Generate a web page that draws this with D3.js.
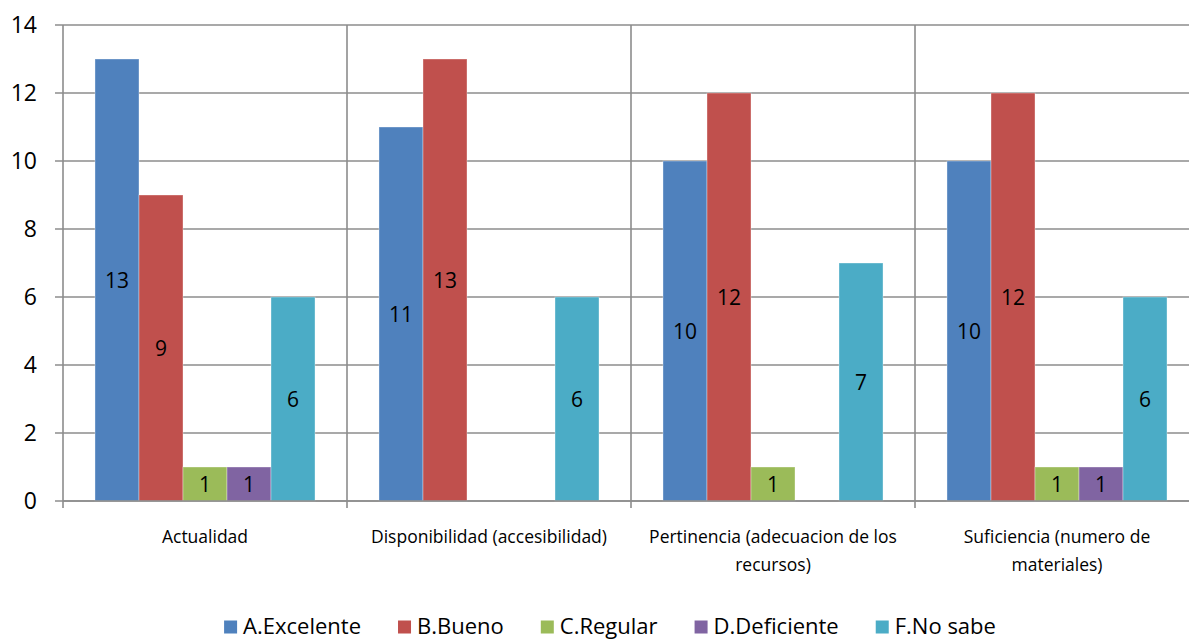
<!DOCTYPE html>
<html><head><meta charset="utf-8">
<script src="https://cdn.jsdelivr.net/npm/d3@7"></script>
<style>body{margin:0;background:#fff}svg{display:block}text{font-family:"Open Sans","Liberation Sans",sans-serif;fill:#000}</style>
</head><body><svg id="c" width="1189" height="642"></svg>
<script>
const categories = ["Actualidad","Disponibilidad (accesibilidad)","Pertinencia (adecuacion de los recursos)","Suficiencia (numero de materiales)"];
const seriesNames = ["A.Excelente","B.Bueno","C.Regular","D.Deficiente","F.No sabe"];
const seriesColors = ["#4F81BD","#C0504D","#9BBB59","#8064A2","#4BACC6"];
const excelente = [13,11,10,10];
const bueno = [9,13,12,12];
const regular = [1,0,1,1];
const deficiente = [1,0,0,1];
const noSabe = [6,6,7,6];
const yTicks = [0,2,4,6,8,10,12,14];
const seriesValues = [excelente,bueno,regular,deficiente,noSabe];

(function(){
const svg = d3.select("#c");
const pLeft = 63, pRight = 1199, pTop = 25, pBottom = 501;
const x0 = d3.scaleBand().domain(categories).range([pLeft,pRight]).paddingInner(0).paddingOuter(0);
const x1 = d3.scaleBand().domain(seriesNames).range([0,x0.bandwidth()]).paddingInner(0).paddingOuter(0.727);
const y = d3.scaleLinear().domain([0,14]).range([pBottom,pTop]);
const grid = "#8c8c8c";

svg.append("g").selectAll("line").data(yTicks).join("line")
  .attr("x1",55).attr("x2",pRight).attr("y1",d=>y(d)).attr("y2",d=>y(d))
  .attr("stroke",grid).attr("stroke-width",1.6);
const bounds = categories.map(c=>x0(c));
svg.append("g").selectAll("line").data(bounds).join("line")
  .attr("x1",d=>d).attr("x2",d=>d).attr("y1",pTop).attr("y2",pBottom+7)
  .attr("stroke",grid).attr("stroke-width",1.6);

svg.append("g").selectAll("text").data(yTicks).join("text")
  .attr("x",37).attr("y",d=>y(d)).attr("dy","0.36em").attr("text-anchor","end")
  .attr("font-size",23).text(d=>d);

const data = [];
categories.forEach((c,i)=>seriesNames.forEach((s,j)=>data.push({c,s,v:seriesValues[j][i],col:seriesColors[j]})));
svg.append("g").selectAll("rect").data(data.filter(d=>d.v>0)).join("rect")
  .attr("x",d=>x0(d.c)+x1(d.s)).attr("width",x1.bandwidth())
  .attr("y",d=>y(d.v)).attr("height",d=>y(0)-y(d.v))
  .attr("fill",d=>d.col).attr("stroke","rgba(255,255,255,0.35)").attr("stroke-width",1);
svg.append("g").selectAll("text").data(data.filter(d=>d.v>0)).join("text")
  .attr("x",d=>x0(d.c)+x1(d.s)+x1.bandwidth()/2).attr("y",d=>y(d.v/2)).attr("dy","0.36em")
  .attr("text-anchor","middle").attr("font-size",21).text(d=>d.v);

svg.append("line").attr("x1",pLeft).attr("x2",pRight).attr("y1",pBottom).attr("y2",pBottom).attr("stroke",grid).attr("stroke-width",1.6);

const catG = svg.append("g");
categories.forEach(c=>{
  const cx = x0(c)+x0.bandwidth()/2;
  const t = catG.append("text").attr("y",537).attr("text-anchor","middle").attr("font-size",17.5);
  const words = c.split(" ");
  let line = [];
  let ts = t.append("tspan").attr("x",cx).attr("dy","0.35em");
  words.forEach(w=>{
    line.push(w); ts.text(line.join(" "));
    if (ts.node().getComputedTextLength() > 270 && line.length>1) {
      line.pop(); ts.text(line.join(" ")); line=[w];
      ts = t.append("tspan").attr("x",cx).attr("dy","1.6em").text(w);
    }
  });
});

const lg = svg.append("g");
let lx = 0;
seriesNames.forEach((s,j)=>{
  const g = lg.append("g");
  g.append("rect").attr("x",lx).attr("y",-6.5).attr("width",13).attr("height",13).attr("fill",seriesColors[j]);
  const t = g.append("text").attr("x",lx+19).attr("y",0).attr("dy","0.34em").attr("font-size",22).text(s);
  lx += 19 + t.node().getComputedTextLength() + 37;
});
const totalW = lx - 37;
lg.attr("transform",`translate(${610-totalW/2},627)`);
})();
</script></body></html>
